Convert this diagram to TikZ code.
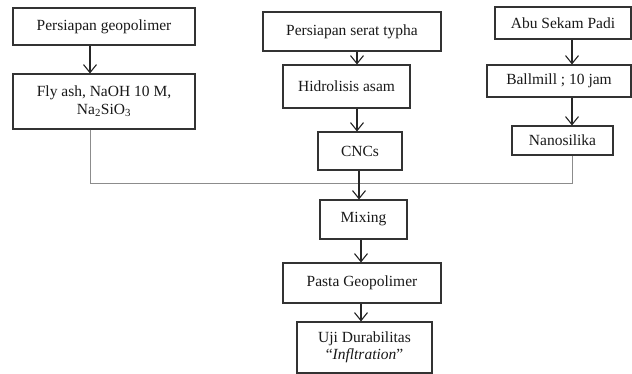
\documentclass[tikz,border=0pt]{standalone}
\usepackage{fontspec}
\setmainfont{Liberation Serif}
\usetikzlibrary{arrows.meta}
\begin{document}
\begin{tikzpicture}[x=1pt,y=-1pt,
  box/.style={draw=black!80,line width=1.1pt,inner sep=0pt,align=center,font=\fontsize{15.5}{17.5}\selectfont,text=black!90},
  arr/.style={draw=black!85,line width=1.1pt,-{Straight Barb[length=8pt,width=13pt,line width=1.1pt]}},
  feed/.style={draw=black!45,line width=0.9pt}]
\useasboundingbox[fill=white] (0,0) rectangle (632,374);
\node[box,minimum width=182pt,minimum height=37pt] (p1) at (104,26.5) {Persiapan geopolimer};
\node[box,minimum width=182pt,minimum height=55pt] (p2) at (104,101.5) {Fly ash, NaOH 10 M,\\Na\textsubscript{2}SiO\textsubscript{3}};
\node[box,minimum width=178pt,minimum height=39pt] (s1) at (352,31.5) {Persiapan serat typha};
\node[box,minimum width=127pt,minimum height=43pt] (s2) at (346.5,86.5) {Hidrolisis asam};
\node[box,minimum width=84pt,minimum height=38pt] (s3) at (360,151) {CNCs};
\node[box,minimum width=136pt,minimum height=32pt] (a1) at (563,23) {Abu Sekam Padi};
\node[box,minimum width=144pt,minimum height=32pt] (a2) at (559,81) {Ballmill ; 10 jam};
\node[box,minimum width=101pt,minimum height=29pt] (a3) at (562.5,140.5) {Nanosilika};
\node[box,minimum width=87pt,minimum height=39pt] (mix) at (363.5,219.5) {Mixing};
\node[box,minimum width=158pt,minimum height=40pt] (pasta) at (362,283) {Pasta Geopolimer};
\node[box,minimum width=135pt,minimum height=51pt] (uji) at (364.5,347.5) {Uji Durabilitas\\``\textit{Infltration}''};
\coordinate (xl) at (90,0);
\coordinate (xm) at (357,0);
\coordinate (xc) at (359,0);
\coordinate (xr) at (572,0);
\coordinate (xb) at (361,0);
\coordinate (jl) at (90,183);
\coordinate (jr) at (572,183);
\draw[arr] (p1.south -| xl) -- (p2.north -| xl);
\draw[arr] (s1.south -| xm) -- (s2.north -| xm);
\draw[arr] (s2.south -| xm) -- (s3.north -| xm);
\draw[arr] (a1.south -| xr) -- (a2.north -| xr);
\draw[arr] (a2.south -| xr) -- (a3.north -| xr);
\draw[feed] (p2.south -| xl) -- (jl) -- (jr) -- (a3.south -| xr);
\draw[arr] (s3.south -| xc) -- (mix.north -| xc);
\draw[arr] (mix.south -| xb) -- (pasta.north -| xb);
\draw[arr] (pasta.south -| xb) -- (uji.north -| xb);
\end{tikzpicture}
\end{document}
